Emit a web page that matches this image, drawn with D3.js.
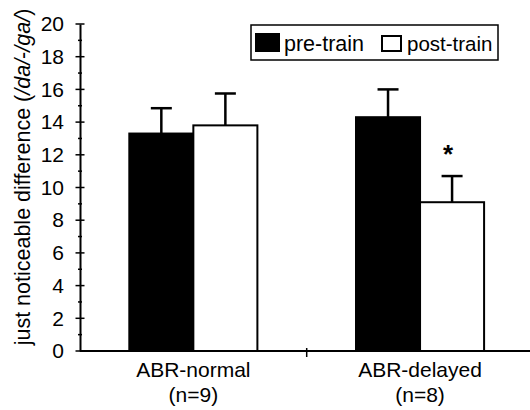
<!DOCTYPE html>
<html>
<head>
<meta charset="utf-8">
<script src="https://cdn.jsdelivr.net/npm/d3@7"></script>
<style>
  body { margin: 0; background: #fff; }
  svg { display: block; font-family: "Liberation Sans", Arial, sans-serif; }
</style>
</head>
<body>
<svg id="vis"></svg>
<script>
// data
var groups = ["ABR-normal", "ABR-delayed"];
var groupN = ["(n=9)", "(n=8)"];
var series = ["pre-train", "post-train"];
var preMeans = [13.3, 14.3];
var preErr = [1.55, 1.7];
var postMeans = [13.8, 9.1];
var postErr = [1.95, 1.6];
var yTicks = [0, 2, 4, 6, 8, 10, 12, 14, 16, 18, 20];

const WIDTH = 530;
const HEIGHT = 410;
const FONT = "Liberation Sans, Arial, sans-serif";

let svg = d3.select("#vis")
    .attr("width", WIDTH)
    .attr("height", HEIGHT);

let xScale = d3.scaleBand()
    .domain(groups)
    .range([80, 533.4])
    .paddingInner(0)
    .paddingOuter(0);

let xInner = d3.scaleBand()
    .domain(series)
    .range([0, xScale.bandwidth()])
    .paddingOuter(0.77)
    .paddingInner(0);

let yScale = d3.scaleLinear()
    .domain([0, 20])
    .range([351, 24]);

var rows = [];
groups.forEach(function(g, i) {
    rows.push({group: g, s: "pre-train", v: preMeans[i], e: preErr[i]});
    rows.push({group: g, s: "post-train", v: postMeans[i], e: postErr[i]});
});

// error bars first so the bar outlines sit on top
var eb = svg.append("g");
rows.forEach(function(d) {
    var cx = xScale(d.group) + xInner(d.s) + xInner.bandwidth() / 2;
    eb.append("line")
        .attr("x1", cx).attr("x2", cx)
        .attr("y1", yScale(d.v)).attr("y2", yScale(d.v + d.e))
        .attr("stroke", "black").attr("stroke-width", 2.5);
    eb.append("line")
        .attr("x1", cx - 10.5).attr("x2", cx + 10.5)
        .attr("y1", yScale(d.v + d.e)).attr("y2", yScale(d.v + d.e))
        .attr("stroke", "black").attr("stroke-width", 2.5);
});

svg.append("g").selectAll("rect")
    .data(rows)
    .enter()
    .append("rect")
    .attr("x", function(d) { return xScale(d.group) + xInner(d.s); })
    .attr("y", function(d) { return yScale(d.v); })
    .attr("width", xInner.bandwidth())
    .attr("height", function(d) { return yScale(0) - yScale(d.v); })
    .style("fill", function(d) { return d.s === "pre-train" ? "black" : "white"; })
    .style("stroke", "black")
    .style("stroke-width", 2);

// significance star over ABR-delayed post-train
svg.append("text")
    .attr("x", xScale("ABR-delayed") + xInner("post-train") + xInner.bandwidth() / 2 - 4)
    .attr("y", 163)
    .attr("text-anchor", "middle")
    .attr("font-size", "26px")
    .attr("font-weight", "bold")
    .text("*");

// y axis
let yAxis = d3.axisLeft(yScale)
    .tickValues(yTicks)
    .tickSize(0)
    .tickPadding(16);
let gy = svg.append("g")
    .attr("transform", "translate(80,0)")
    .call(yAxis);
gy.select(".domain").attr("stroke-width", 2);
gy.selectAll("text")
    .attr("font-size", "21px")
    .attr("font-family", FONT)
    .attr("fill", "black");

// major / minor cross ticks
d3.range(0, 21, 1).forEach(function(v) {
    var half = (v % 2 === 0) ? 4.5 : 2;
    svg.append("line")
        .attr("x1", 80 - half).attr("x2", 80 + half)
        .attr("y1", yScale(v)).attr("y2", yScale(v))
        .attr("stroke", "black").attr("stroke-width", 1.5);
});

// x axis
svg.append("line")
    .attr("x1", 80).attr("x2", WIDTH)
    .attr("y1", yScale(0)).attr("y2", yScale(0))
    .attr("stroke", "black").attr("stroke-width", 2);
svg.append("line")
    .attr("x1", xScale("ABR-delayed")).attr("x2", xScale("ABR-delayed"))
    .attr("y1", yScale(0) - 3).attr("y2", yScale(0) + 6)
    .attr("stroke", "black").attr("stroke-width", 1.5);

var catCenter = function(g) {
    return xScale(g) + xInner("pre-train") + xInner.bandwidth();
};
svg.selectAll(".cat")
    .data(groups)
    .enter()
    .append("text")
    .attr("x", function(d) { return catCenter(d); })
    .attr("y", 377)
    .attr("text-anchor", "middle")
    .attr("font-size", "21px")
    .text(function(d) { return d; });
svg.selectAll(".catn")
    .data(groupN)
    .enter()
    .append("text")
    .attr("x", function(d, i) { return catCenter(groups[i]); })
    .attr("y", 402)
    .attr("text-anchor", "middle")
    .attr("font-size", "21px")
    .text(function(d) { return d; });

// y axis title
var ttl = svg.append("text")
    .attr("transform", "translate(30,177) rotate(-90)")
    .attr("text-anchor", "middle")
    .attr("font-size", "21.5px");
ttl.append("tspan").text("just noticeable difference (");
ttl.append("tspan").attr("font-style", "italic").text("/da/");
ttl.append("tspan").text("-");
ttl.append("tspan").attr("font-style", "italic").text("/ga/");
ttl.append("tspan").text(")");

// legend
let leg = svg.append("g");
leg.append("rect")
    .attr("x", 251).attr("y", 25)
    .attr("width", 247).attr("height", 35)
    .attr("fill", "white").attr("stroke", "black").attr("stroke-width", 1.5);
leg.append("rect")
    .attr("x", 255).attr("y", 33).attr("width", 25).attr("height", 19)
    .attr("fill", "black");
leg.append("text")
    .attr("x", 284).attr("y", 51)
    .attr("font-size", "21.5px")
    .text(series[0]);
leg.append("rect")
    .attr("x", 382).attr("y", 36).attr("width", 19).attr("height", 15)
    .attr("fill", "white").attr("stroke", "black").attr("stroke-width", 2);
leg.append("text")
    .attr("x", 407).attr("y", 51)
    .attr("font-size", "20.5px")
    .text(series[1]);
</script>
</body>
</html>
